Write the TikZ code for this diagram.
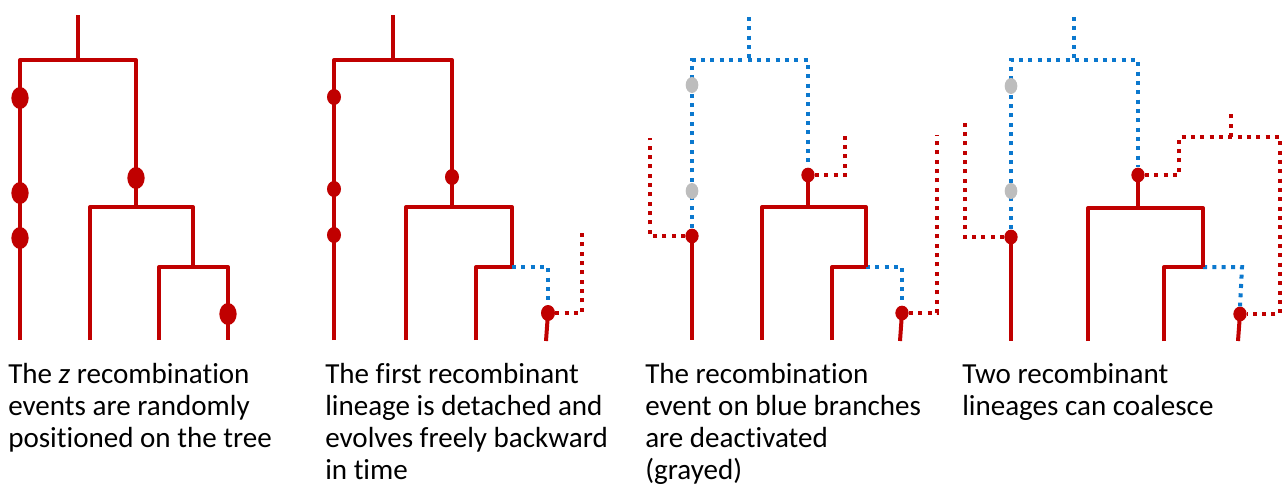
\documentclass[tikz,border=0pt]{standalone}
\usepackage{fontspec}
\setmainfont{Carlito}[Ligatures=NoCommon]
\usetikzlibrary{shapes.geometric}
\definecolor{TreeRed}{HTML}{C00000}
\definecolor{DeadBlue}{HTML}{0B78CE}
\definecolor{OffGray}{HTML}{BDBDBD}

\begin{document}
\begin{tikzpicture}[
    x=0.75pt,y=-0.75pt,
    branch/.style={TreeRed,line width=3pt,line join=round},
    freeline/.style={TreeRed,line width=3pt,dash pattern=on 3pt off 4pt},
    deadline/.style={DeadBlue,line width=3pt,dash pattern=on 3pt off 4pt},
    event/.style={ellipse,fill=TreeRed,inner sep=0pt,minimum width=10.5pt,minimum height=12pt},
    bigevent/.style={event,minimum width=13pt,minimum height=16.5pt},
    smallevent/.style={event,minimum width=10pt,minimum height=11pt},
    grayed/.style={smallevent,fill=OffGray,minimum width=9.5pt,minimum height=12pt},
    caption/.style={anchor=base west,inner sep=0pt,align=left,font=\fontsize{21.8pt}{24pt}\selectfont}
  ]
    \useasboundingbox (0,0) rectangle (1286,496);

    % first tree: events put on the branches
    \coordinate (a-root) at (78,15);
    \coordinate (a-top) at (78,60);
    \coordinate (a-l) at (20,60);
    \coordinate (a-r) at (136,60);
    \coordinate (a-l-tip) at (20,340);
    \coordinate (a-m) at (136,207);
    \coordinate (a-ml) at (90,207);
    \coordinate (a-mr) at (193,207);
    \coordinate (a-ml-tip) at (90,340);
    \coordinate (a-n) at (193,267);
    \coordinate (a-nl) at (159,267);
    \coordinate (a-nr) at (228,267);
    \coordinate (a-nl-tip) at (159,340);
    \coordinate (a-nr-tip) at (228,340);
    \draw[branch] (a-root) -- (a-top);
    \draw[branch] (a-l-tip) -- (a-l) -- (a-r) -- (a-m);
    \draw[branch] (a-ml-tip) -- (a-ml) -- (a-mr) -- (a-n);
    \draw[branch] (a-nl-tip) -- (a-nl) -- (a-nr) -- (a-nr-tip);
    \node[bigevent] (a-e1) at (20,98) {};
    \node[bigevent] (a-e2) at (20,193) {};
    \node[bigevent] (a-e3) at (20,238) {};
    \node[bigevent] (a-e4) at (136,178) {};
    \node[bigevent] (a-e5) at (228,314) {};

    % second tree: one lineage set free
    \coordinate (b-root) at (393,15);
    \coordinate (b-top) at (393,60);
    \coordinate (b-l) at (334,60);
    \coordinate (b-r) at (452,60);
    \coordinate (b-l-tip) at (334,340);
    \coordinate (b-m) at (452,207);
    \coordinate (b-ml) at (406,207);
    \coordinate (b-mr) at (512,207);
    \coordinate (b-ml-tip) at (406,340);
    \coordinate (b-n) at (512,267);
    \coordinate (b-nl) at (476,267);
    \coordinate (b-nr) at (548,267);
    \coordinate (b-nl-tip) at (476,340);
    \coordinate (b-nr-tip) at (546,341);
    \coordinate (b-f1) at (582,313);
    \coordinate (b-f2) at (582,230);
    \draw[branch] (b-root) -- (b-top);
    \draw[branch] (b-l-tip) -- (b-l) -- (b-r) -- (b-m);
    \draw[branch] (b-ml-tip) -- (b-ml) -- (b-mr) -- (b-n);
    \draw[branch] (b-nl-tip) -- (b-nl) -- (b-n);
    \node[event] (b-e5) at (548,313) {};
    \draw[deadline] (b-n) -- (b-nr) -- (b-e5.north);
    \draw[branch] (b-e5.center) -- (b-nr-tip);
    \draw[freeline] (b-e5) -- (b-f1) -- (b-f2);
    \node[event] (b-e1) at (334,97) {};
    \node[event] (b-e2) at (334,189) {};
    \node[event] (b-e3) at (334,235) {};
    \node[event] (b-e4) at (452,177) {};

    % third tree: blue part switched off
    \coordinate (c-root) at (749,17);
    \coordinate (c-top) at (749,60);
    \coordinate (c-l) at (692,60);
    \coordinate (c-r) at (808,60);
    \coordinate (c-l-tip) at (692,340);
    \coordinate (c-m) at (808,207);
    \coordinate (c-ml) at (762,207);
    \coordinate (c-mr) at (866,207);
    \coordinate (c-ml-tip) at (762,340);
    \coordinate (c-n) at (866,267);
    \coordinate (c-nl) at (832,267);
    \coordinate (c-nr) at (902,267);
    \coordinate (c-nl-tip) at (832,340);
    \coordinate (c-nr-tip) at (900,341);
    \coordinate (c-f1) at (650,236);
    \coordinate (c-f2) at (650,138);
    \coordinate (c-g1) at (845,175);
    \coordinate (c-g2) at (845,133);
    \coordinate (c-h1) at (937,313);
    \coordinate (c-h2) at (937,135);
    \node[smallevent] (c-e3) at (692,236) {};
    \node[smallevent] (c-e4) at (808,175) {};
    \node[smallevent] (c-e5) at (902,313) {};
    \draw[deadline] (c-root) -- (c-top);
    \draw[deadline] (c-e3.north) -- (c-l) -- (c-r) -- (c-e4.north);
    \draw[deadline] (c-n) -- (c-nr) -- (c-e5.north);
    \draw[branch] (c-e3.center) -- (c-l-tip);
    \draw[branch] (c-e4.center) -- (c-m);
    \draw[branch] (c-ml-tip) -- (c-ml) -- (c-mr) -- (c-n);
    \draw[branch] (c-nl-tip) -- (c-nl) -- (c-n);
    \draw[branch] (c-e5.center) -- (c-nr-tip);
    \draw[freeline] (c-e3) -- (c-f1) -- (c-f2);
    \draw[freeline] (c-e4) -- (c-g1) -- (c-g2);
    \draw[freeline] (c-e5) -- (c-h1) -- (c-h2);
    \node[grayed] (c-e1) at (692,85) {};
    \node[grayed] (c-e2) at (692,191) {};

    % fourth tree: two free lineages merge
    \coordinate (d-root) at (1074,17);
    \coordinate (d-top) at (1074,60);
    \coordinate (d-l) at (1011,60);
    \coordinate (d-r) at (1138,60);
    \coordinate (d-l-tip) at (1011,341);
    \coordinate (d-m) at (1138,208);
    \coordinate (d-ml) at (1088,208);
    \coordinate (d-mr) at (1203,208);
    \coordinate (d-ml-tip) at (1088,341);
    \coordinate (d-n) at (1203,267);
    \coordinate (d-nl) at (1164,267);
    \coordinate (d-nr) at (1242,267);
    \coordinate (d-nl-tip) at (1164,341);
    \coordinate (d-nr-tip) at (1238,341);
    \coordinate (d-f1) at (965,237);
    \coordinate (d-f2) at (965,120);
    \coordinate (d-g1) at (1179,175);
    \coordinate (d-g2) at (1179,137);
    \coordinate (d-join) at (1231,137);
    \coordinate (d-join-top) at (1231,113);
    \coordinate (d-h2) at (1280,137);
    \coordinate (d-h1) at (1280,314);
    \node[smallevent] (d-e3) at (1011,237) {};
    \node[smallevent] (d-e4) at (1138,175) {};
    \node[smallevent] (d-e5) at (1240,314) {};
    \draw[deadline] (d-root) -- (d-top);
    \draw[deadline] (d-e3.north) -- (d-l) -- (d-r) -- (d-e4.north);
    \draw[deadline] (d-n) -- (d-nr) -- (d-e5.north);
    \draw[branch] (d-e3.center) -- (d-l-tip);
    \draw[branch] (d-e4.center) -- (d-m);
    \draw[branch] (d-ml-tip) -- (d-ml) -- (d-mr) -- (d-n);
    \draw[branch] (d-nl-tip) -- (d-nl) -- (d-n);
    \draw[branch] (d-e5.center) -- (d-nr-tip);
    \draw[freeline] (d-e3) -- (d-f1) -- (d-f2);
    \draw[freeline] (d-e4) -- (d-g1) -- (d-g2) -- (d-h2) -- (d-h1) -- (d-e5);
    \draw[freeline] (d-join) -- (d-join-top);
    \node[grayed] (d-e1) at (1011,86) {};
    \node[grayed] (d-e2) at (1011,191) {};

    % captions, placed by the baseline of their last line
    \node[caption] (a-txt) at (8,447) {The \textit{z} recombination\\events are randomly\\positioned on the tree};
    \node[caption] (b-txt) at (325,479) {The first recombinant\\lineage is detached and\\evolves freely backward\\in time};
    \node[caption] (c-txt) at (645,479) {The recombination\\event on blue branches\\are deactivated\\(grayed)};
    \node[caption] (d-txt) at (962,415) {Two recombinant\\lineages can coalesce};
  \end{tikzpicture}
\end{document}
